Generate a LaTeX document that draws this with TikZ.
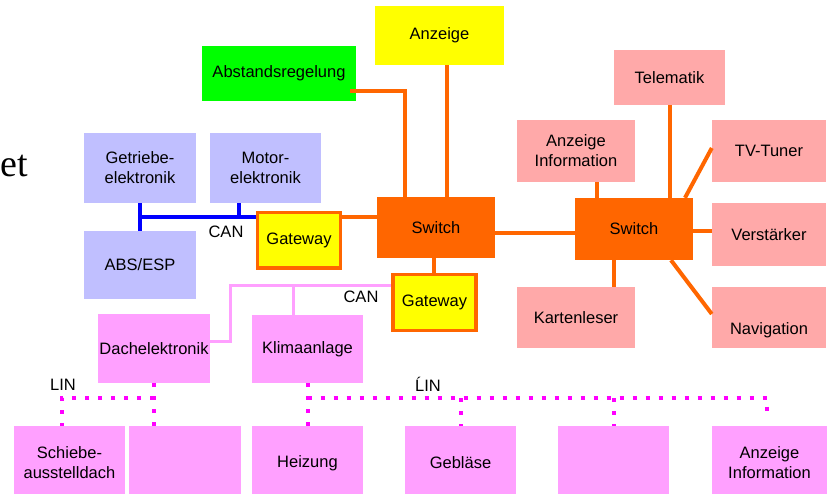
\documentclass[tikz,border=0pt]{standalone}
\usepackage{fontspec}
\setmainfont{Liberation Sans}
\newfontfamily\titleserif{Liberation Serif}
\usetikzlibrary{calc}

\definecolor{netorange}{HTML}{FF6600}
\definecolor{gwyellow}{HTML}{FFFF00}
\definecolor{accgreen}{HTML}{00FF00}
\definecolor{canlav}{HTML}{C0BFFF}
\definecolor{bodypink}{HTML}{FFA0FF}
\definecolor{infosalmon}{HTML}{FFA9A9}
\definecolor{linmagenta}{HTML}{FF00FF}
\definecolor{canblue}{HTML}{0000FF}

\begin{document}
\begin{tikzpicture}[x=1pt,y=-1pt,
  ecu/.style={rectangle, inner sep=0pt, align=center,
    font=\fontsize{16.5}{20}\selectfont, text=black},
  lavbox/.style={ecu, fill=canlav},
  pinkbox/.style={ecu, fill=bodypink},
  linbox/.style={pinkbox, minimum height=74pt},
  salmonbox/.style={ecu, fill=infosalmon},
  switchbox/.style={ecu, fill=netorange, minimum width=118pt},
  gatebox/.style={ecu, fill=gwyellow, draw=netorange, line width=3.5pt,
    minimum width=83pt, minimum height=55.5pt},
  ethline/.style={draw=netorange, line width=4pt},
  canline/.style={draw=canblue, line width=4pt},
  bodycan/.style={draw=bodypink, line width=3pt},
  linbus/.style={draw=linmagenta, line width=4pt, dash pattern=on 4pt off 9pt},
  buslabel/.style={font=\fontsize{16.5}{20}\selectfont, inner sep=0pt},
]
\useasboundingbox (0,0) rectangle (827,494);

% heading fragment
\node[anchor=base west, inner sep=0pt, font=\titleserif\fontsize{38}{42}\selectfont]
  (heading) at (0.5,177) {et};

% central domain
\node[ecu, fill=gwyellow, minimum width=129pt, minimum height=59pt] (anz) at (439.5,35.5) {Anzeige};
\node[ecu, fill=accgreen, minimum width=154pt, minimum height=55pt] (abst) at (279,73.5) {Abstandsregelung};
\node[switchbox, minimum height=61pt] (sw1) at (436,227.5) {Switch};
\node[gatebox] (gw1) at (299,240.5) {Gateway};
\node[gatebox] (gw2) at (434.5,302.5) {Gateway};

% powertrain CAN
\node[lavbox, minimum width=112pt, minimum height=70pt] (getr) at (140,168) {Getriebe-\\elektronik};
\node[lavbox, minimum width=111pt, minimum height=70pt] (motor) at (265.5,168) {Motor-\\elektronik};
\node[lavbox, minimum width=112pt, minimum height=68pt] (abs) at (140,265) {ABS/ESP};

% body CAN
\node[pinkbox, minimum width=112pt, minimum height=69pt] (dach) at (154,348.5) {Dachelektronik};
\node[pinkbox, minimum width=111pt, minimum height=68pt] (klima) at (307.5,349) {Klimaanlage};

% LIN nodes (running off the lower edge)
\node[linbox, minimum width=111pt] (schiebe) at (69.5,463) {Schiebe-\\ausstelldach};
\node[linbox, minimum width=112pt] (blankA) at (185,463) {};
\node[linbox, minimum width=111pt] (heiz) at (307.5,463) {Heizung};
\node[linbox, minimum width=111pt] (gebl) at (460.5,463) {Gebläse};
\node[linbox, minimum width=111pt] (blankB) at (613.5,463) {};
\node[linbox, minimum width=115pt] (anzinfB) at (769.5,463) {Anzeige\\Information};

% infotainment domain
\node[switchbox, minimum height=62pt] (sw2) at (634,229) {Switch};
\node[salmonbox, minimum width=111pt, minimum height=55pt] (tele) at (669.5,77.5) {Telematik};
\node[salmonbox, minimum width=118pt, minimum height=62pt] (anzinf) at (576,151) {Anzeige\\Information};
\node[salmonbox, minimum width=114pt, minimum height=62pt] (tv) at (769,151) {TV-Tuner};
\node[salmonbox, minimum width=114pt, minimum height=63pt] (verst) at (769,234.5) {Verstärker};
\node[salmonbox, minimum width=114pt, minimum height=61pt] (navi) at (769,317.5) {};
\node[buslabel] (navitext) at (769,330) {Navigation};
\node[salmonbox, minimum width=118pt, minimum height=61pt] (kart) at (576,317.5) {Kartenleser};

% Ethernet links, central switch
\draw[ethline] ([shift={(-6,17.5)}]abst.east) -| ([xshift=-31pt]sw1.north);
\draw[ethline] ([xshift=7.5pt]anz.south) -- ([xshift=11pt]sw1.north);
\draw[ethline] ([yshift=23.5pt]gw1.east) -- ([yshift=23.5pt]gw1.east -| sw1.west);
\draw[ethline] ([xshift=-2pt]sw1.south) -- ([xshift=-2pt]sw1.south |- gw2.north);
\draw[ethline] ([yshift=-5.5pt]sw1.east) -- ([yshift=-5.5pt]sw1.east -| sw2.west);

% Ethernet links, infotainment switch
\draw[ethline] (tele.south) -- (tele.south |- sw2.north);
\draw[ethline] ([xshift=21pt]anzinf.south) -- ([xshift=21pt]anzinf.south |- sw2.north);
\draw[ethline] ([yshift=3pt]tv.west) -- ([xshift=51pt]sw2.north);
\draw[ethline] ([yshift=3.5pt]verst.west) -- ([yshift=3.5pt]verst.west -| sw2.east);
\draw[ethline] ([xshift=37pt]sw2.south) -- ([yshift=3.5pt]navi.west);
\draw[ethline] ([xshift=-20pt]sw2.south) -- ([xshift=-20pt]sw2.south |- kart.north);

% powertrain CAN bus
\coordinate (canjoin) at ($(getr.south)!0.5!(abs.north)$);
\draw[canline] (getr.south) -- (abs.north);
\draw[canline] (canjoin) -- (canjoin -| gw1.west);
\draw[canline] ([xshift=-26.5pt]motor.south) -- ([xshift=-26.5pt]motor.south |- canjoin);
\node[buslabel] (canA) at (226,232) {CAN};

% body CAN bus
\coordinate (bodybend) at (230,286);
\draw[bodycan] ([yshift=16.5pt]gw2.west) -- (bodybend) |- ([yshift=7.5pt]dach.east);
\draw[bodycan] ([xshift=-14.5pt]klima.north) -- ([xshift=-14.5pt]klima.north |- bodybend);
\node[buslabel] (canB) at (361,297) {CAN};

% LIN buses
\coordinate (linleft) at (154,398);
\coordinate (linright) at (307.5,398);
\coordinate (linend) at (767,398);
\draw[linbus] (dach.south) -- (dach.south |- blankA.north);
\draw[linbus] (linleft) -| ([xshift=-7.5pt]schiebe.north);
\draw[linbus] (klima.south) -- (heiz.north);
\draw[linbus] (linright) -- (linend) -- ++(0,20);
\draw[linbus] (gebl.north |- linright) -- (gebl.north);
\draw[linbus] (blankB.north |- linright) -- (blankB.north);
\node[buslabel] (linA) at (63,385) {LIN};
\node[buslabel] (linB) at (428,384) {ĹIN};
\end{tikzpicture}
\end{document}
